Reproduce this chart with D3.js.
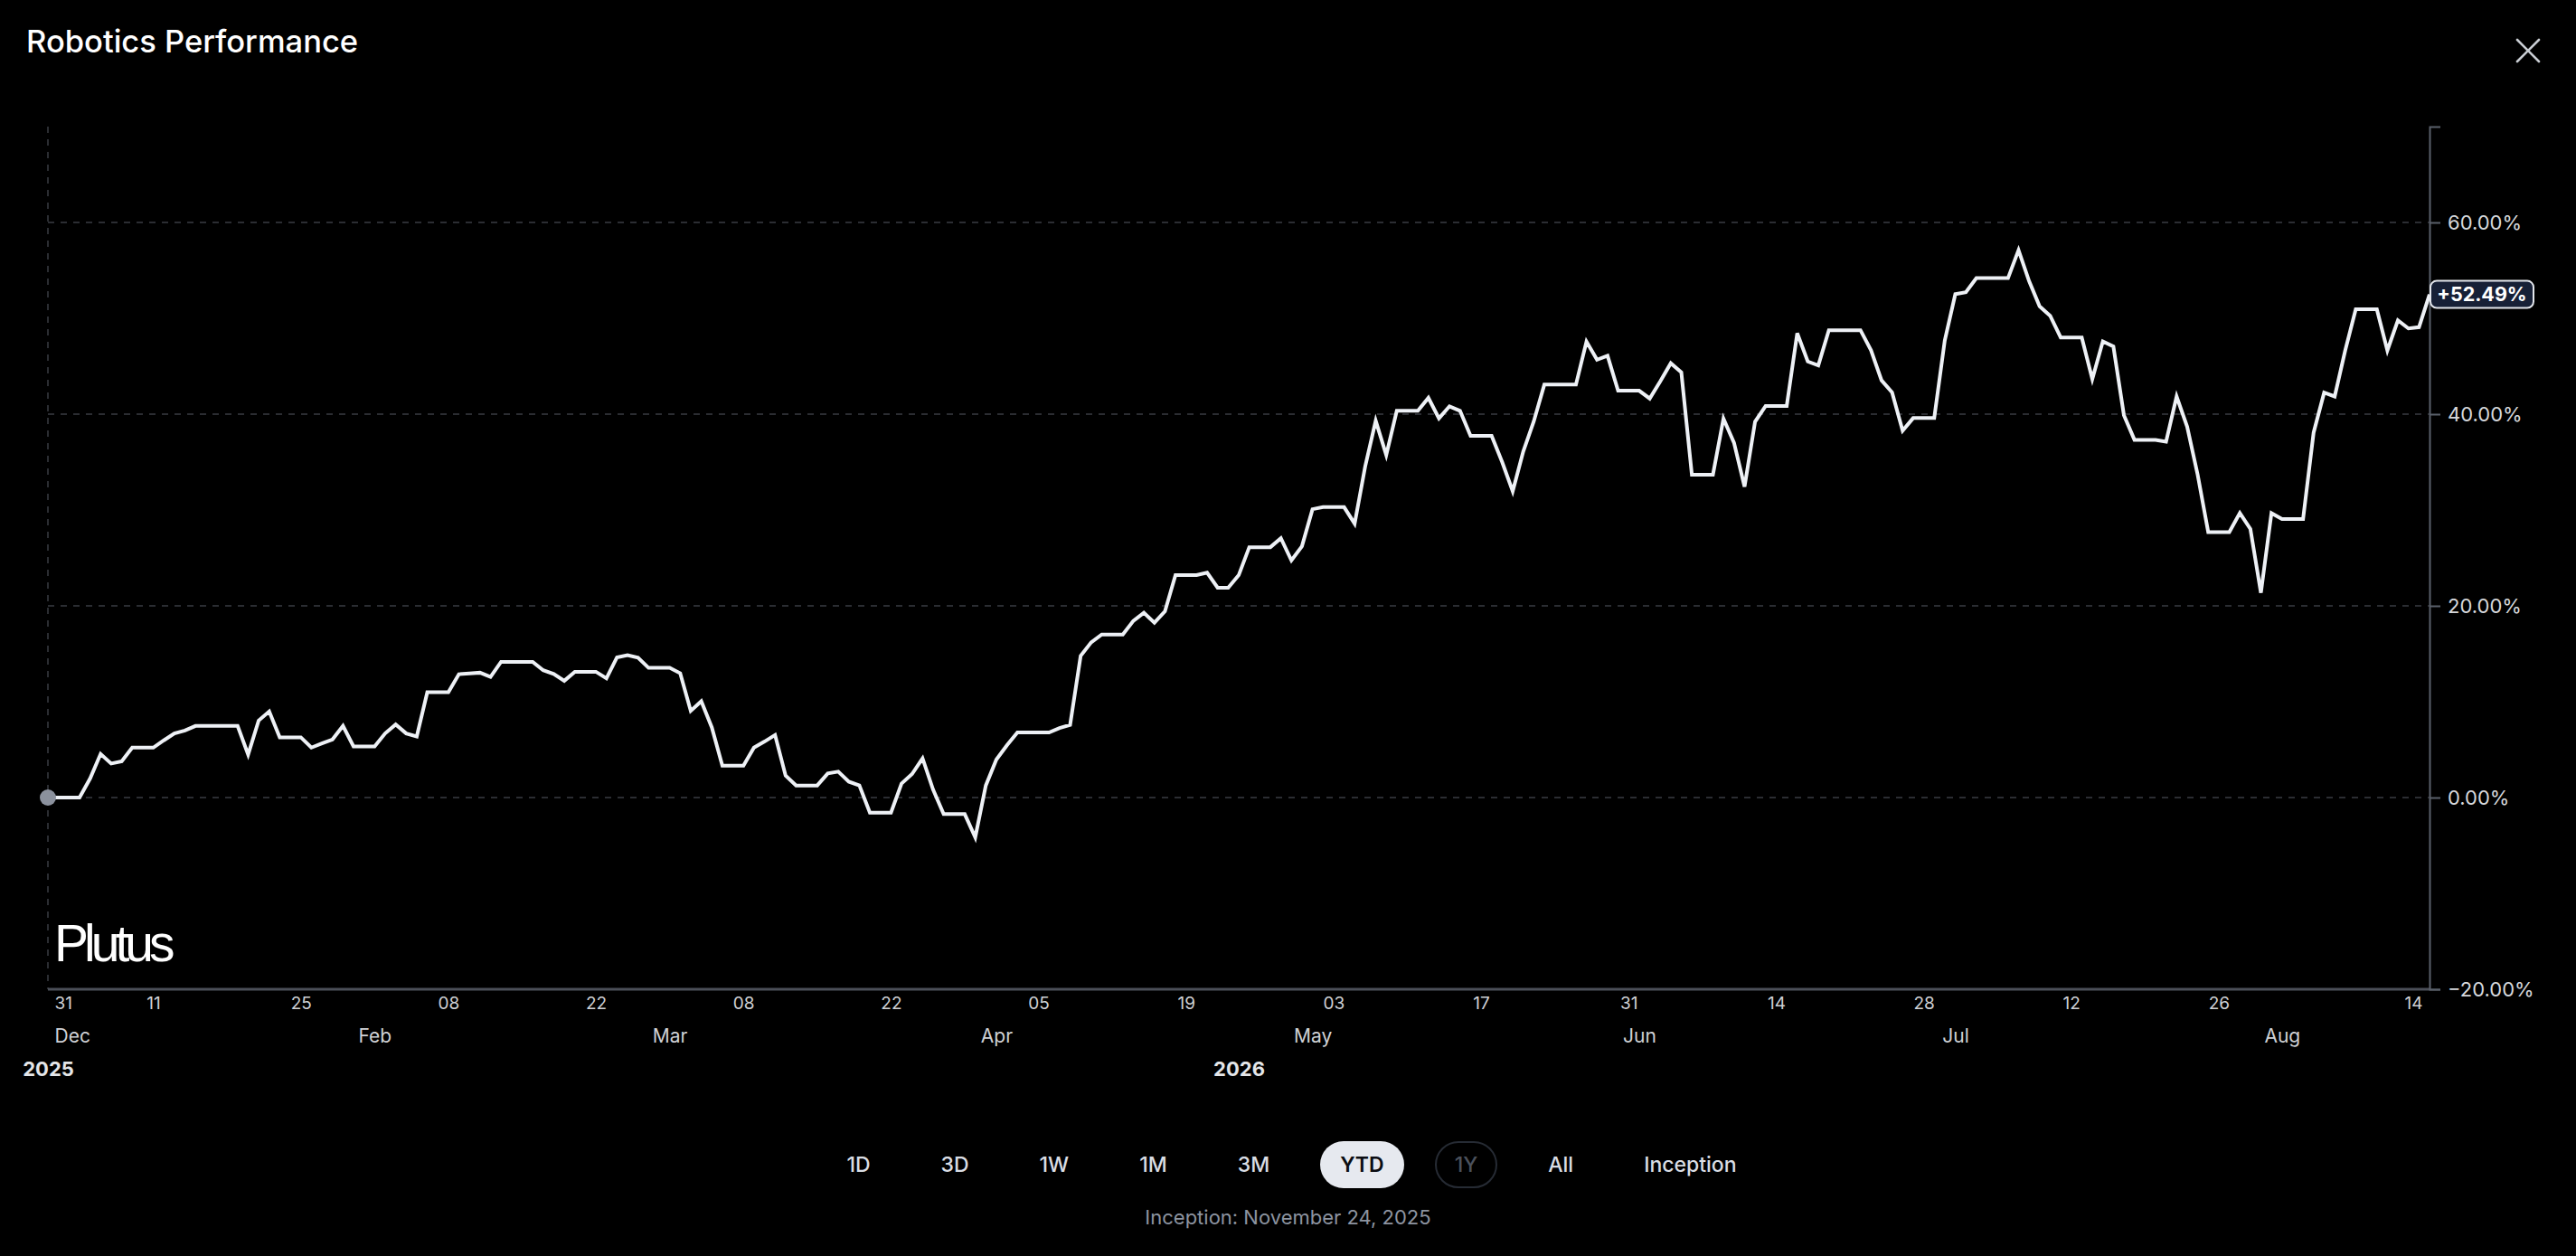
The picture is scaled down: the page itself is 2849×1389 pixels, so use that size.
<!DOCTYPE html>
<html>
<head>
<meta charset="utf-8">
<title>Robotics Performance</title>
<script src="https://cdn.jsdelivr.net/npm/d3@7"></script>
<style>
    body { margin: 0; background: #000; width: 2849px; height: 1389px; overflow: hidden;
           font-family: Inter, "Noto Sans", sans-serif; }
    #chart { position: absolute; left: 0; top: 0; }
    #ranges { position: absolute; left: 4px; top: 1262px; width: 2849px;
              display: flex; justify-content: center; gap: 34px; }
    #ranges button { box-sizing: border-box; height: 52px; padding: 0 20px; border-radius: 26px;
                     border: 2px solid transparent; background: none; color: #d9dde4;
                     font: 500 23px Inter, sans-serif; }
    #ranges button.active { background: #e6e9ef; color: #0b0d12; font-weight: 600; }
    #ranges button.off { border-color: #262b34; color: #4b515c; }
    #inception { position: absolute; left: 0; top: 1333px; width: 2849px; text-align: center;
                 color: #8d94a0; font-size: 22px; line-height: 26px; }
</style>
</head>
<body>
<svg id="chart" width="2849" height="1389"></svg>
<div id="ranges"></div>
<div id="inception"></div>
<script>
// daily YTD return (%), 1 Jan .. 15 Aug 2026
const values = [
    0, 0, 0, 0, 1.98, 4.55, 3.55, 3.77, 5.21, 5.21,
    5.21, 5.97, 6.69, 7.0, 7.47, 7.47, 7.47, 7.47, 7.47, 4.49,
    8.04, 8.98, 6.28, 6.28, 6.28, 5.21, 5.65, 6.06, 7.47, 5.34,
    5.34, 5.34, 6.69, 7.63, 6.69, 6.37, 10.99, 10.99, 10.99, 12.87,
    12.95, 13.03, 12.59, 14.16, 14.16, 14.16, 14.16, 13.28, 12.9, 12.18,
    13.12, 13.12, 13.12, 12.43, 14.63, 14.85, 14.6, 13.53, 13.53, 13.53,
    12.97, 9.04, 10.05, 7.32, 3.33, 3.33, 3.33, 5.21, 5.84, 6.53,
    2.29, 1.26, 1.26, 1.26, 2.51, 2.7, 1.66, 1.26, -1.57, -1.57,
    -1.57, 1.45, 2.45, 4.09, 0.82, -1.73, -1.73, -1.73, -4.15, 1.26,
    3.96, 5.44, 6.79, 6.79, 6.79, 6.79, 7.26, 7.58, 14.78, 16.19,
    17.01, 17.01, 17.01, 18.43, 19.28, 18.24, 19.43, 23.21, 23.21, 23.21,
    23.46, 21.89, 21.89, 23.2, 26.12, 26.12, 26.12, 27.06, 24.74, 26.22,
    30.08, 30.3, 30.3, 30.3, 28.57, 34.54, 39.31, 35.73, 40.35, 40.35,
    40.35, 41.7, 39.56, 40.82, 40.35, 37.74, 37.74, 37.74, 35.0, 31.96,
    36.1, 39.25, 43.08, 43.08, 43.08, 43.08, 47.57, 45.68, 46.09, 42.45,
    42.45, 42.45, 41.63, 43.42, 45.31, 44.36, 33.69, 33.69, 33.69, 39.53,
    37.02, 32.43, 39.22, 40.85, 40.85, 40.85, 48.45, 45.49, 45.09, 48.76,
    48.76, 48.76, 48.76, 46.66, 43.52, 42.26, 38.27, 39.59, 39.59, 39.59,
    47.69, 52.53, 52.72, 54.19, 54.19, 54.19, 54.19, 57.11, 53.88, 51.24,
    50.26, 48.0, 48.0, 48.0, 43.66, 47.59, 47.06, 39.89, 37.32, 37.32,
    37.32, 37.13, 41.84, 38.7, 33.67, 27.7, 27.7, 27.7, 29.68, 28.02,
    21.36, 29.68, 29.05, 29.05, 29.05, 38.07, 42.25, 41.84, 46.65, 50.95,
    50.95, 50.95, 46.65, 49.79, 48.94, 49.07, 52.49
];
const startDate = "2026-01-01";
const endDate = "2026-08-15";
const baseDate = "2025-12-31";   // YTD base, first axis label

const yTicks = [-20, 0, 20, 40, 60];
const dayTicks = ["2025-12-31", "2026-01-11", "2026-01-25", "2026-02-08", "2026-02-22",
    "2026-03-08", "2026-03-22", "2026-04-05", "2026-04-19", "2026-05-03", "2026-05-17",
    "2026-05-31", "2026-06-14", "2026-06-28", "2026-07-12", "2026-07-26", "2026-08-14"];
const monthTicks = ["2025-12-31", "2026-02-01", "2026-03-01", "2026-04-01", "2026-05-01",
    "2026-06-01", "2026-07-01", "2026-08-01"];

const ranges = ["1D", "3D", "1W", "1M", "3M", "YTD", "1Y", "All", "Inception"];
const activeRange = "YTD";
const disabledRange = "1Y";
const inceptionDate = "2025-11-24";

const parse = d3.timeParse("%Y-%m-%d");
const dates = d3.timeDay.range(parse(startDate), d3.timeDay.offset(parse(endDate), 1));
const series = dates.map((d, i) => ({ date: d, value: values[i] }));

const plotLeft = 53, plotRight = 2687, plotTop = 140, plotBottom = 1094;
const svg = d3.select("#chart");

const x = d3.scaleTime().domain(d3.extent(dates)).range([plotLeft, plotRight]).clamp(true);
const y = d3.scaleLinear().domain([-20, 70]).range([plotBottom, plotTop]);

// title and close
svg.append("text")
    .attr("x", 29).attr("y", 58)
    .attr("fill", "#fff")
    .style("font", "500 34.5px Inter, sans-serif")
    .text("Robotics Performance");

const close = svg.append("g").attr("transform", "translate(2796,56)")
    .attr("stroke", "#c9cdd3").attr("stroke-width", 2.6).attr("stroke-linecap", "round");
close.append("line").attr("x1", -12).attr("y1", -12).attr("x2", 12).attr("y2", 12);
close.append("line").attr("x1", -12).attr("y1", 12).attr("x2", 12).attr("y2", -12);

// grid
svg.append("g")
    .selectAll("line")
    .data(yTicks.filter(v => v > y.domain()[0]))
    .join("line")
    .attr("x1", plotLeft).attr("x2", plotRight)
    .attr("y1", d => y(d)).attr("y2", d => y(d))
    .attr("stroke", "#3a3d43").attr("stroke-width", 1.5).attr("stroke-dasharray", "7,7");

svg.append("line")
    .attr("x1", plotLeft).attr("x2", plotLeft).attr("y1", plotTop).attr("y2", plotBottom)
    .attr("stroke", "#3a3d43").attr("stroke-width", 1.5).attr("stroke-dasharray", "7,7");

// watermark
svg.append("text")
    .attr("x", 60).attr("y", 1063)
    .attr("fill", "#fff")
    .style("font", "400 57px 'Liberation Sans', Arial, sans-serif")
    .style("letter-spacing", "-5px")
    .text("Plutus");

// x axis line
svg.append("line")
    .attr("x1", plotLeft).attr("x2", plotRight).attr("y1", plotBottom).attr("y2", plotBottom)
    .attr("stroke", "#4b4f58").attr("stroke-width", 3);

// y axis on the right
const yAxis = d3.axisRight(y)
    .tickValues(yTicks)
    .tickFormat(d => d3.format(".2f")(d) + "%")
    .tickSize(12)
    .tickPadding(8);

svg.append("g")
    .attr("transform", `translate(${plotRight},0)`)
    .call(yAxis)
    .call(g => g.selectAll("path, line").attr("stroke", "#5a606b").attr("stroke-width", 2))
    .call(g => g.selectAll("text")
        .attr("fill", "#d6d8dc")
        .style("font", "400 22px Inter, sans-serif"));

// x axis rows
function edgeLabels(g) {
    g.selectAll(".tick").each(function(d) {
        const px = x(d);
        const t = d3.select(this).select("text");
        if (px <= plotLeft + 1) t.attr("text-anchor", "start").attr("x", 7);
        else if (px >= plotRight - 12) t.attr("text-anchor", "end").attr("x", plotRight - 8 - px);
    });
}

function styleRow(g, font, fill) {
    g.select(".domain").remove();
    g.selectAll("text").attr("fill", fill).style("font", font);
}

svg.append("g")
    .attr("transform", `translate(0,${plotBottom + 8})`)
    .call(d3.axisBottom(x).tickValues(dayTicks.map(parse))
        .tickFormat(d3.timeFormat("%d")).tickSize(0).tickPadding(0))
    .call(g => styleRow(g, "400 19px Inter, sans-serif", "#cfd1d5"))
    .call(edgeLabels);

svg.append("g")
    .attr("transform", `translate(0,${plotBottom + 44})`)
    .call(d3.axisBottom(x).tickValues(monthTicks.map(parse))
        .tickFormat(d3.timeFormat("%b")).tickSize(0).tickPadding(0))
    .call(g => styleRow(g, "400 21px Inter, sans-serif", "#cfd1d5"))
    .call(edgeLabels);

// year labels centred over each year's part of the axis (base date .. last point)
const axisDays = [parse(baseDate)].concat(dates);
const yearCentres = d3.groups(axisDays, d => d.getFullYear())
    .map(([yr, ds]) => new Date((+ds[0] + +ds[ds.length - 1]) / 2));

svg.append("g")
    .attr("transform", `translate(0,${plotBottom + 80})`)
    .call(d3.axisBottom(x).tickValues(yearCentres)
        .tickFormat(d3.timeFormat("%Y")).tickSize(0).tickPadding(0))
    .call(g => styleRow(g, "700 22px Inter, sans-serif", "#e4e6e9"));

// the line
const line = d3.line()
    .x(d => x(d.date))
    .y(d => y(d.value));

svg.append("path")
    .datum(series)
    .attr("d", line)
    .attr("fill", "none")
    .attr("stroke", "#eef1f6")
    .attr("stroke-width", 4)
    .attr("stroke-linejoin", "miter");

svg.append("circle")
    .attr("cx", x(series[0].date)).attr("cy", y(series[0].value))
    .attr("r", 9).attr("fill", "#8b919d");

// last value tag
const last = series[series.length - 1];
const tag = svg.append("g").attr("transform", `translate(${plotRight + 1},${y(last.value)})`);
tag.append("rect")
    .attr("x", 0).attr("y", -15).attr("width", 114).attr("height", 30).attr("rx", 7)
    .attr("fill", "#172036").attr("stroke", "#e3e6ec").attr("stroke-width", 2);
tag.append("text")
    .attr("x", 57).attr("dy", "0.36em").attr("text-anchor", "middle")
    .attr("fill", "#fff")
    .style("font", "700 21.5px Inter, sans-serif")
    .text(d3.format("+.2f")(last.value) + "%");

// range buttons
d3.select("#ranges").selectAll("button")
    .data(ranges)
    .join("button")
    .classed("active", d => d === activeRange)
    .classed("off", d => d === disabledRange)
    .text(d => d);

d3.select("#inception")
    .text("Inception: " + d3.timeFormat("%B %-d, %Y")(parse(inceptionDate)));
</script>
</body>
</html>
